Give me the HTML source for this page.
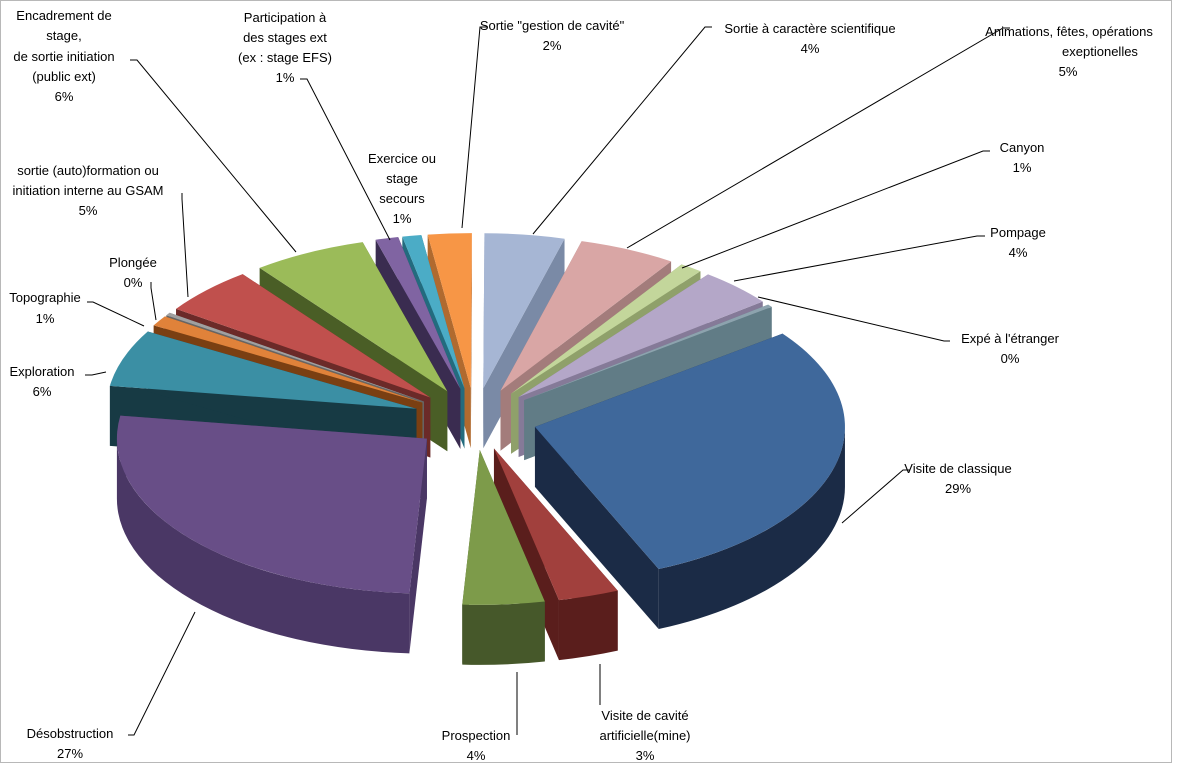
<!DOCTYPE html>
<html><head><meta charset="utf-8">
<style>
body{margin:0;background:#fff;}
svg{display:block;font-family:"Liberation Sans",sans-serif;font-size:13px;}
</style></head>
<body>
<svg id="chart" width="1177" height="765" viewBox="0 0 1177 765" xmlns="http://www.w3.org/2000/svg">
<rect x="0.5" y="0.5" width="1171" height="762" fill="#fff" stroke="#b8b8b8"/>
<g id="slices"></g>
<g id="labels" fill="#000" text-anchor="middle"></g>
</svg>
<script>
const categories = ["Sortie \"gestion de cavité\"","Sortie à caractère scientifique","Animations, fêtes, opérations exeptionelles","Canyon","Pompage","Expé à l'étranger","Visite de classique","Visite de cavité artificielle(mine)","Prospection","Désobstruction","Exploration","Topographie","Plongée","sortie (auto)formation ou initiation interne au GSAM","Encadrement de stage, de sortie initiation (public ext)","Participation à des stages ext (ex : stage EFS)","Exercice ou stage secours"];
const values = [2.3,4.2,5.1,1.2,4.0,0.3,29.0,3.2,4.3,26.7,6.0,1.1,0.3,5.0,6.0,1.2,1.0];
const percentLabels = ["2%","4%","5%","1%","4%","0%","29%","3%","4%","27%","6%","1%","0%","5%","6%","1%","1%"];
const topColors = ["#F79646","#A6B6D4","#D9A6A5","#C3D69B","#B4A7C8","#8DA3AE","#3F689B","#A1403D","#7D9B4A","#684E87","#3B8FA4","#E0823A","#A0A0A0","#C0504D","#9BBB59","#8064A2","#4BACC6"];
const sideColors = ["#B06A2F","#7A8AA6","#A37C7B","#8FA06A","#857A98","#617C86","#1B2B46","#5A1E1C","#46582A","#4A3765","#173A44","#7A3F12","#666","#6B2A28","#4A5E26","#3A2C50","#236B7E"];

const labelLines = [
 [["Sortie \"gestion de cavité\"",552,30],["2%",552,50]],
 [["Sortie à caractère scientifique",810,33],["4%",810,53]],
 [["Animations, fêtes, opérations",1069,36],["exeptionelles",1100,56],["5%",1068,76]],
 [["Canyon",1022,152],["1%",1022,172]],
 [["Pompage",1018,237],["4%",1018,257]],
 [["Expé à l'étranger",1010,343],["0%",1010,363]],
 [["Visite de classique",958,473],["29%",958,493]],
 [["Visite de cavité",645,720],["artificielle(mine)",645,740],["3%",645,760]],
 [["Prospection",476,740],["4%",476,760]],
 [["Désobstruction",70,738],["27%",70,758]],
 [["Exploration",42,376],["6%",42,396]],
 [["Topographie",45,302],["1%",45,323]],
 [["Plongée",133,267],["0%",133,287]],
 [["sortie (auto)formation ou",88,175],["initiation interne au GSAM",88,195],["5%",88,215]],
 [["Encadrement de",64,20],["stage,",64,40],["de sortie initiation",64,61],["(public ext)",64,81],["6%",64,101]],
 [["Participation à",285,22],["des stages ext",285,42],["(ex : stage EFS)",285,62],["1%",285,82]],
 [["Exercice ou",402,163],["stage",402,183],["secours",402,203],["1%",402,223]]
];
const leaders = [
 [[487,27],[480,27],[462,228]],
 [[712,27],[705,27],[533,234]],
 [[1010,28],[1003,28],[627,248]],
 [[990,151],[983,151],[682,268]],
 [[985,236],[977,236],[734,281]],
 [[950,341],[944,341],[758,297]],
 [[910,470],[903,470],[842,523]],
 [[600,705],[600,697],[600,664]],
 [[517,735],[517,727],[517,672]],
 [[128,735],[134,735],[195,612]],
 [[85,375],[92,375],[106,372]],
 [[87,302],[93,302],[144,326]],
 [[151,282],[151,288],[156,320]],
 [[182,193],[182,199],[188,297]],
 [[130,60],[137,60],[296,252]],
 [[300,79],[307,79],[390,240]],
 [[0,0],[0,0],[0,0]]
];

const NS="http://www.w3.org/2000/svg";
const cx=475, cy=419, rx=310, ry=155, depth=60, E=62, startDeg=-8;
const total = values.reduce((a,b)=>a+b,0);
const rad = d=>d*Math.PI/180;
function pt(deg,ox,oy,dz){return [cx+ox+rx*Math.sin(rad(deg)), cy+oy-ry*Math.cos(rad(deg))+dz];}
function mk(tag,attrs,parent){const e=document.createElementNS(NS,tag);for(const k in attrs)e.setAttribute(k,attrs[k]);parent.appendChild(e);return e;}
const gS=document.getElementById('slices');
let acc=0; const sl=[];
values.forEach((v,i)=>{const a1=startDeg+acc/total*360; acc+=v; const a2=startDeg+acc/total*360; sl.push({i,a1,a2,mid:(a1+a2)/2});});
const order=sl.slice().sort((p,q)=>Math.cos(rad(q.mid))-Math.cos(rad(p.mid)));
order.forEach(s=>{
 const i=s.i;
 const ox=E*Math.sin(rad(s.mid)), oy=-E*(ry/rx)*Math.cos(rad(s.mid));
 const g=mk('g',{},gS);
 
 
 const c0=[cx+ox,cy+oy];
 [s.a1,s.a2].forEach(a=>{
  const p=pt(a,ox,oy,0);
  const w=mk('path',{d:`M${c0[0]},${c0[1]}L${p[0]},${p[1]}L${p[0]},${p[1]+depth}L${c0[0]},${c0[1]+depth}Z`,fill:sideColors[i]},g);
  
  
 });
 const s1=Math.max(s.a1,90), s2=Math.min(s.a2,270);
 if(s1<s2){
  const p1=pt(s1,ox,oy,0),p2=pt(s2,ox,oy,0);
  const lg=(s2-s1)>180?1:0;
  const w=mk('path',{d:`M${p1[0]},${p1[1]}A${rx},${ry} 0 ${lg} 1 ${p2[0]},${p2[1]}L${p2[0]},${p2[1]+depth}A${rx},${ry} 0 ${lg} 0 ${p1[0]},${p1[1]+depth}Z`,fill:sideColors[i]},g);
  
  
 }
 const p1=pt(s.a1,ox,oy,0),p2=pt(s.a2,ox,oy,0);
 const lg=(s.a2-s.a1)>180?1:0;
 const t=mk('path',{d:`M${c0[0]},${c0[1]}L${p1[0]},${p1[1]}A${rx},${ry} 0 ${lg} 1 ${p2[0]},${p2[1]}Z`,fill:topColors[i]},g);
 
 
});
const gL=document.getElementById('labels');
leaders.forEach((l,i)=>{
 if(l[0][0]===0)return;
 const p=mk('polyline',{points:l.map(q=>q.join(',')).join(' '),fill:'none',stroke:'#000','stroke-width':'1'},gL);
 
 
});
labelLines.forEach((lines,i)=>{
 lines.forEach((ln,j)=>{
  const t=mk('text',{x:ln[1],y:ln[2]},gL);
  t.textContent = (j===lines.length-1)? percentLabels[i] : ln[0];
  
  
 });
});
</script>
</body></html>
